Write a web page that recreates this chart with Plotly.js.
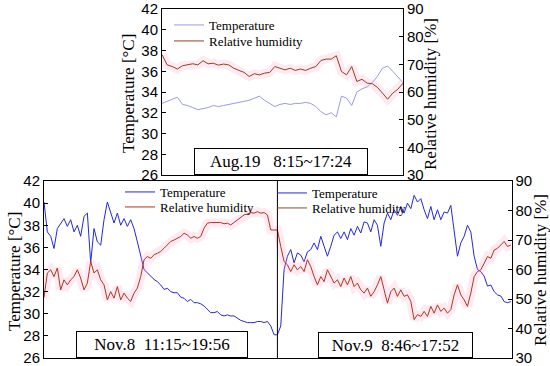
<!DOCTYPE html>
<html>
<head>
<meta charset="utf-8">
<script src="https://cdn.plot.ly/plotly-3.0.1.min.js"></script>
<style>
  html, body { margin: 0; padding: 0; background: #fff; }
  #chart { width: 550px; height: 366px; }
</style>
</head>
<body>
<div id="chart"></div>
<script>
// Aug.19 8:15~17:24 (top panel), evenly spaced samples
var augT = [32.9, 33.1, 33.3, 33.5, 32.8, 32.7, 32.5, 32.3, 32.4, 32.5, 32.7, 32.6,
            32.7, 32.8, 32.9, 33.0, 33.1, 33.2, 33.4, 33.6, 33.2, 32.9, 32.6, 32.8,
            32.9, 32.8, 32.9, 32.9, 33.0, 32.9, 32.6, 32.1, 31.8, 32.0, 31.6, 33.6,
            33.4, 32.7, 34.0, 34.3, 34.5, 34.9, 35.5, 36.3, 36.5, 36.0, 35.4, 34.9];
var augRH = [73.5, 69.8, 69.2, 68.3, 69.5, 69.8, 70.2, 69.8, 71.3, 70.2, 70.4, 69.7,
             70.1, 69.8, 68.6, 67.8, 67.1, 65.6, 66.6, 66.2, 66.8, 67.1, 69.2, 68.6,
             68.0, 68.6, 67.8, 68.3, 67.8, 68.6, 69.2, 71.4, 71.9, 71.9, 73.1, 67.4,
             66.2, 69.2, 63.8, 64.6, 63.2, 63.0, 61.7, 59.6, 57.4, 59.6, 61.0, 63.2];

// Nov.8 11:15~19:56 (bottom left)
var nov8T = [40.1, 37.4, 37.0, 35.9, 37.7, 38.2, 38.6, 37.9, 38.5, 37.4, 38.0, 37.0,
             38.8, 39.1, 34.6, 37.7, 36.5, 36.2, 38.5, 40.1, 39.1, 38.2, 39.1, 38.0,
             38.6, 37.9, 38.5, 37.7, 36.5, 35.3, 34.0, 33.7, 33.4, 33.1, 32.9, 32.6,
             32.2, 32.3, 32.0, 31.9, 31.9, 31.5, 31.4, 31.1, 31.3, 31.0, 31.0, 30.9,
             30.7, 30.4, 30.1, 30.1, 30.2, 29.9, 29.8, 29.9, 29.8, 29.8, 29.6, 29.4,
             29.3, 29.2, 29.2, 29.2, 29.3, 29.3, 29.2, 29.3, 28.9, 28.1];
var nov8RH = [50.5, 58.8, 59.9, 57.6, 60.5, 53.1, 56.5, 54.8, 56.5, 57.6, 59.9, 57.1,
              53.1, 55.4, 62.7, 58.8, 59.9, 56.5, 54.8, 49.7, 52.5, 50.3, 54.2, 49.7,
              52.0, 50.3, 49.2, 52.0, 53.7, 57.6, 63.3, 64.4, 63.8, 65.0, 65.5, 66.1,
              67.2, 68.3, 69.5, 70.0, 70.6, 71.2, 72.3, 71.7, 70.6, 71.2, 70.6, 71.2,
              74.0, 75.7, 75.9, 75.9, 75.7, 75.9, 75.5, 75.7, 75.1, 75.9, 76.6, 77.4,
              78.5, 78.8, 79.3, 79.1, 79.6, 79.1, 79.3, 78.5, 73.4, 73.4];

// Nov.9 8:46~17:52 (bottom right)
var nov9T = [28.1, 28.9, 34.0, 35.2, 35.8, 34.6, 35.5, 35.3, 34.7, 35.6, 35.8, 36.4,
             35.8, 37.0, 36.1, 35.2, 36.1, 37.1, 37.4, 36.8, 37.4, 36.7, 37.7, 37.1,
             37.9, 37.3, 38.3, 38.2, 37.4, 38.5, 38.0, 36.1, 38.2, 39.1, 38.5, 39.4,
             38.9, 39.7, 39.1, 40.0, 39.5, 40.7, 40.1, 40.4, 39.4, 38.6, 39.7, 38.5,
             39.4, 38.5, 39.2, 39.1, 39.8, 37.3, 35.2, 36.4, 37.0, 38.0, 37.4, 35.2,
             34.0, 33.8, 33.4, 32.5, 32.6, 32.0, 31.7, 31.6, 31.1, 31.0, 31.1];
var nov9RH = [73.4, 67.8, 62.7, 61.6, 59.3, 61.6, 59.9, 61.0, 59.3, 63.3, 61.0, 57.6,
              54.8, 57.6, 55.9, 59.9, 57.6, 55.4, 56.5, 54.2, 57.1, 54.8, 57.6, 54.2,
              55.4, 53.1, 52.0, 53.7, 50.9, 52.5, 54.8, 57.6, 53.1, 48.6, 52.5, 53.7,
              50.9, 53.1, 50.9, 51.4, 49.2, 43.0, 44.7, 44.1, 45.8, 44.1, 47.5, 45.2,
              48.0, 45.8, 46.9, 45.2, 46.4, 51.4, 54.8, 51.4, 49.7, 47.5, 52.0, 57.6,
              59.3, 59.9, 62.1, 64.4, 63.8, 66.6, 67.2, 68.3, 69.5, 67.8, 68.3];

var legendNames = ['Temperature', 'Relative humidity'];
var axisTitles = ['Temperature [\u00b0C]', 'Relative humidity [%]'];
var panelLabels = ['Aug.19\u00a0\u00a0\u00a08:15~17:24', 'Nov.8\u00a0\u00a011:15~19:56', 'Nov.9\u00a0\u00a08:46~17:52'];

var serif = 'Liberation Serif, Times New Roman, serif';
var sans = 'Liberation Sans, Arial, sans-serif';

var augX = augT.map(function (v, i) { return i; });
var botT = nov8T.concat(nov9T);
var botRH = nov8RH.concat(nov9RH);
var botX = botT.map(function (v, i) { return i; });
var pink = 'rgba(255,160,205,0.22)';

var data = [
    // top panel
    {x: augX, y: augRH, xaxis: 'x', yaxis: 'y2', mode: 'lines', line: {color: pink, width: 9}, showlegend: false, hoverinfo: 'skip'},
    {x: augX, y: augT, xaxis: 'x', yaxis: 'y', mode: 'lines', name: legendNames[0], line: {color: '#9a9ae8', width: 1}, legend: 'legend'},
    {x: augX, y: augRH, xaxis: 'x', yaxis: 'y2', mode: 'lines', name: legendNames[1], line: {color: '#8e4418', width: 1}, legend: 'legend2'},
    // bottom panel
    {x: botX, y: botRH, xaxis: 'x2', yaxis: 'y4', mode: 'lines', line: {color: pink, width: 9}, showlegend: false, hoverinfo: 'skip'},
    {x: botX, y: botT, xaxis: 'x2', yaxis: 'y3', mode: 'lines', name: legendNames[0], line: {color: '#2626dc', width: 1}, legend: 'legend3'},
    {x: botX, y: botRH, xaxis: 'x2', yaxis: 'y4', mode: 'lines', name: legendNames[1], line: {color: '#b0341a', width: 1}, legend: 'legend4'},
    // legend entries for the Nov.9 half
    {x: [null], y: [null], xaxis: 'x2', yaxis: 'y3', mode: 'lines', name: legendNames[0], line: {color: '#2626dc', width: 1}, legend: 'legend5'},
    {x: [null], y: [null], xaxis: 'x2', yaxis: 'y4', mode: 'lines', name: legendNames[1], line: {color: '#8e4a1e', width: 1}, legend: 'legend6'}
];

var topDomX = [162 / 550, 403 / 550];
var topDomY = [(366 - 175) / 366, (366 - 9) / 366];
var botDomX = [44 / 550, 511.5 / 550];
var botDomY = [(366 - 358) / 366, (366 - 181) / 366];

function tempAxis(anchor, dom) {
    return {
        domain: dom, anchor: anchor, range: [26, 42], dtick: 2,
        showline: true, linecolor: '#000', linewidth: 1,
        ticks: 'inside', ticklen: 4, tickcolor: '#000',
        showgrid: false, zeroline: false, ticklabeloverflow: 'allow',
        tickfont: {family: sans, size: 15, color: '#000'}
    };
}
function rhAxis(anchor, over) {
    return {
        anchor: anchor, overlaying: over, side: 'right', range: [30, 90], dtick: 10,
        showline: true, linecolor: '#000', linewidth: 1,
        ticks: 'inside', ticklen: 4, tickcolor: '#000',
        showgrid: false, zeroline: false, ticklabeloverflow: 'allow',
        tickfont: {family: sans, size: 15, color: '#000'}
    };
}

// one legend per entry so each row sits where the original has it
function legendAt(px, py) {
    return {
        x: px / 550, y: (366 - py) / 366, xanchor: 'left', yanchor: 'top',
        bgcolor: 'rgba(0,0,0,0)', borderwidth: 0,
        font: {family: serif, size: 13, color: '#000'}
    };
}

function axisTitle(text, px, py) {
    return {
        text: text, xref: 'paper', yref: 'paper', x: px / 550, y: (366 - py) / 366,
        xanchor: 'center', yanchor: 'middle', textangle: -90, showarrow: false,
        font: {family: serif, size: 17, color: '#000'}
    };
}

function panelBox(text, px, w, h, yBottom) {
    return {
        text: text, xref: 'paper', yref: 'paper', x: px / 550, y: yBottom,
        xanchor: 'center', yanchor: 'bottom', showarrow: false, width: w, height: h,
        bordercolor: '#000', borderwidth: 1, borderpad: 0, bgcolor: '#fff',
        font: {family: serif, size: 17, color: '#000'}
    };
}

var layout = {
    width: 550,
    height: 366,
    margin: {l: 0, r: 0, t: 0, b: 0},
    paper_bgcolor: '#fff',
    plot_bgcolor: '#fff',
    xaxis: {domain: topDomX, anchor: 'y', range: [0, augT.length - 1], showline: true, mirror: true,
            linecolor: '#000', showticklabels: false, ticks: '', showgrid: false, zeroline: false},
    yaxis: tempAxis('x', topDomY),
    yaxis2: rhAxis('x', 'y'),
    xaxis2: {domain: botDomX, anchor: 'y3', range: [0, botT.length - 0.8], showline: true, mirror: true,
             linecolor: '#000', showticklabels: false, ticks: '', showgrid: false, zeroline: false},
    yaxis3: tempAxis('x2', botDomY),
    yaxis4: rhAxis('x2', 'y3'),
    legend: legendAt(169, 10),
    legend2: legendAt(169, 26),
    legend3: legendAt(120, 177),
    legend4: legendAt(120, 192),
    legend5: legendAt(272, 178),
    legend6: legendAt(272, 193),
    shapes: [
        {type: 'line', xref: 'x2', yref: 'paper', x0: nov8T.length, x1: nov8T.length,
         y0: botDomY[0], y1: botDomY[1], line: {color: '#000', width: 1}}
    ],
    annotations: [
        axisTitle(axisTitles[0], 129, 94),
        axisTitle(axisTitles[1], 431, 94),
        axisTitle(axisTitles[0], 14, 272),
        axisTitle(axisTitles[1], 540, 270),
        panelBox(panelLabels[0], 281, 172, 25, topDomY[0]),
        panelBox(panelLabels[1], 162, 170, 25, botDomY[0]),
        panelBox(panelLabels[2], 395.5, 153, 24, botDomY[0])
    ]
};

Plotly.newPlot('chart', data, layout, {staticPlot: true, displayModeBar: false});
</script>
</body>
</html>
